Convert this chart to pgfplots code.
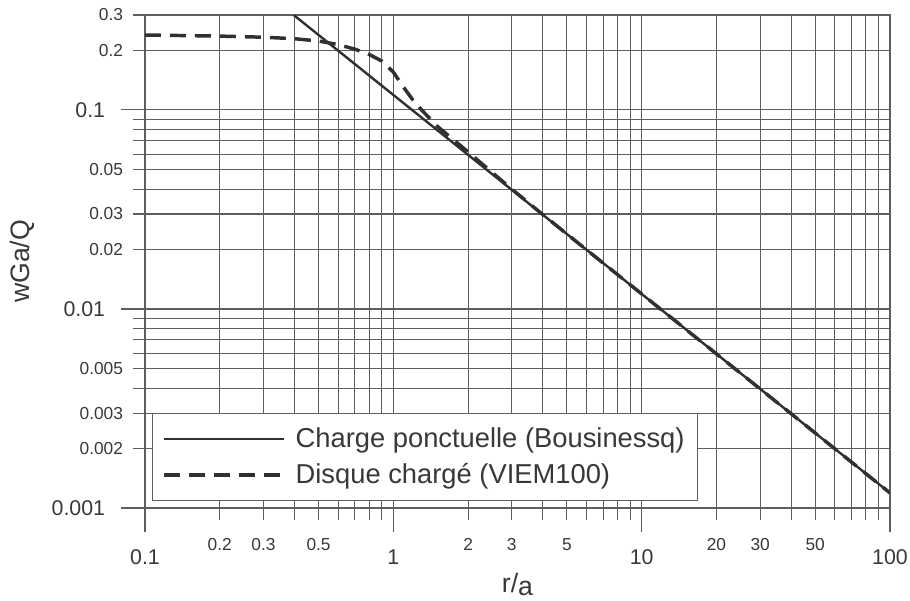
\documentclass[border=0pt]{standalone}
\usepackage{fontspec}
\setmainfont{Liberation Sans}
\usepackage{pgfplots}
\pgfplotsset{compat=1.18}
\usetikzlibrary{calc}
\definecolor{gridc}{HTML}{5E5E5E}
\definecolor{linec}{HTML}{303030}
\definecolor{txtc}{HTML}{383838}
\begin{document}
\begin{tikzpicture}
\begin{axis}[
  xmode=log, ymode=log,
  scale only axis, width=558.75pt, height=369.75pt,
  xmin=0.1, xmax=100, ymin=0.001, ymax=0.3,
  xtick={0.1,1,10,100}, xticklabels={0.1,1,10,100},
  ytick={0.001,0.01,0.1}, yticklabels={0.001,0.01,0.1},
  minor xtick={0.2,0.3,0.4,0.5,0.6,0.7,0.8,0.9,2,3,4,5,6,7,8,9,20,30,40,50,60,70,80,90},
  minor ytick={0.002,0.003,0.004,0.005,0.006,0.007,0.008,0.009,0.02,0.03,0.04,0.05,0.06,0.07,0.08,0.09,0.2,0.3},
  extra x ticks={0.2,0.3,0.5,2,3,5,20,30,50},
  extra x tick labels={0.2,0.3,0.5,2,3,5,20,30,50},
  extra y ticks={0.002,0.003,0.005,0.02,0.03,0.05,0.2,0.3},
  extra y tick labels={0.002,0.003,0.005,0.02,0.03,0.05,0.2,0.3},
  extra x tick style={grid=none, major tick length=9pt, xticklabel shift=10.5pt, xticklabel style={font=\fontsize{13}{13}\selectfont}},
  extra y tick style={grid=none, major tick length=9pt, yticklabel shift=4pt, yticklabel style={font=\fontsize{13}{13}\selectfont}},
  xticklabel shift=10pt, yticklabel shift=8.5pt,
  grid=both,
  major grid style={gridc, line width=0.8pt},
  minor grid style={gridc, line width=0.8pt},
  tick align=outside, major tick length=18pt, minor tick length=9pt,
  xtick pos=bottom, ytick pos=left,
  every tick/.style={gridc, line width=0.8pt},
  axis line style={gridc, line width=0.8pt},
  tick label style={text=txtc},
  xticklabel style={font=\fontsize{16}{16}\selectfont},
  yticklabel style={font=\fontsize{16}{16}\selectfont},
  ylabel={wGa/Q},
  ylabel style={at={(axis description cs:-0.165,0.5)}, anchor=center, font=\fontsize{20}{24}\selectfont, text=txtc},
  xlabel={r/\raisebox{-2.5pt}{a}},
  xlabel style={at={(axis description cs:0.5,-0.171)}, anchor=base, font=\fontsize{20}{24}\selectfont, text=txtc},
  legend style={at={(axis description cs:0.0094,0.015)}, anchor=south west, draw=gridc, line width=0.8pt, fill=white,
    font=\fontsize{20.5}{24}\selectfont, text=txtc, inner xsep=7.5pt, inner ysep=8.6pt, row sep=6.5pt},
  legend cell align=left,
  legend image code/.code={\draw[#1] (0pt,0pt) -- (90pt,0pt); \path (95.25pt,0pt);},
]
\coordinate (ll) at (rel axis cs:0,0);
\coordinate (ur) at (rel axis cs:1,1);
\addplot[linec, line width=1.8pt] coordinates {(0.397,0.3) (1,0.119) (10,0.0119) (100,0.00119)};
\addlegendentry{Charge ponctuelle (Bousinessq)}
\addplot[linec, line width=2.6pt, dash pattern=on 12pt off 6.75pt] coordinates {
(0.1,0.238) (0.2,0.235) (0.3,0.232) (0.4,0.228) (0.5,0.222) (0.6,0.213) (0.7,0.202) (0.8,0.19) (0.9,0.176)
(1.0,0.155) (1.1,0.13) (1.2,0.112) (1.3,0.1) (1.5,0.083) (2,0.0615) (2.5,0.0485) (3,0.040) (4,0.0298) (5,0.0238)
(10,0.0119) (100,0.00119)};
\addlegendentry{Disque chargé (VIEM100)}
\end{axis}
\pgfresetboundingbox
\path ($(ll)+(-108.75pt,-69.75pt)$) rectangle ($(ur)+(15pt,11.25pt)$);
\end{tikzpicture}
\end{document}
